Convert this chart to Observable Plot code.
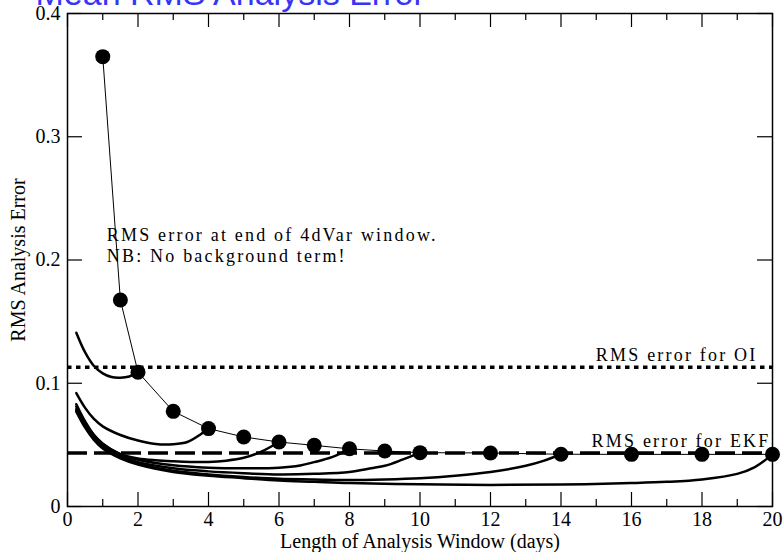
<!DOCTYPE html>
<html>
<head>
<meta charset="utf-8">
<script src="https://cdn.jsdelivr.net/npm/d3@7"></script>
<script src="https://cdn.jsdelivr.net/npm/@observablehq/plot@0.6"></script>
<style>
  html, body { margin: 0; padding: 0; background: #fff; }
  #chart svg { display: block; }
</style>
</head>
<body>
<div id="chart"></div>
<script>
// ---- data ----
const titleText = "Mean RMS Analysis Error";
const xLabel = "Length of Analysis Window (days)";
const yLabel = "RMS Analysis Error";
const noteLines = ["RMS error at end of 4dVar window.", "NB: No background term!"];
const oiLabel = "RMS error for OI";
const ekfLabel = "RMS error for EKF";

// RMS error at the end of each 4dVar window
const windowDays = [1, 1.5, 2, 3, 4, 5, 6, 7, 8, 9, 10, 12, 14, 16, 18, 20];
const rmsAtEnd   = [0.365, 0.1675, 0.109, 0.0772, 0.0632, 0.0564, 0.0523, 0.0496, 0.0468, 0.045, 0.0437, 0.0434, 0.0424, 0.0423, 0.0423, 0.0423];

// reference levels
const oiError = 0.113;
const ekfError = 0.0434;

// error evolution inside selected windows
const win2Days = [0.25, 0.5, 0.75, 1.0, 1.25, 1.5, 1.75, 2.0];
const win2Rms  = [0.141, 0.125, 0.114, 0.108, 0.105, 0.1045, 0.1055, 0.109];

const win4Days = [0.25, 0.5, 0.75, 1.0, 1.5, 2.0, 2.5, 3.0, 3.4, 3.75, 4.0];
const win4Rms  = [0.092, 0.080, 0.071, 0.065, 0.058, 0.0535, 0.0507, 0.0505, 0.0523, 0.058, 0.0632];

const win6Days = [0.25, 0.5, 0.75, 1.0, 1.25, 1.5, 2.0, 2.5, 3.0, 3.5, 4.0, 4.5, 5.0, 5.5, 6.0];
const win6Rms  = [0.083, 0.069, 0.058, 0.051, 0.046, 0.0425, 0.039, 0.0375, 0.0367, 0.0362, 0.0362, 0.0372, 0.0395, 0.0445, 0.0523];

const win8Days = [0.25, 0.5, 0.75, 1.0, 1.5, 2.0, 3.0, 4.0, 5.0, 6.0, 6.6, 7.0, 7.5, 8.0];
const win8Rms  = [0.081, 0.068, 0.058, 0.051, 0.0425, 0.038, 0.0335, 0.0315, 0.031, 0.0315, 0.0333, 0.036, 0.040, 0.0468];

const win10Days = [0.25, 0.5, 0.75, 1.0, 1.5, 2.0, 3.0, 4.0, 5.0, 6.0, 7.0, 8.0, 8.5, 9.0, 9.5, 10.0];
const win10Rms  = [0.079, 0.066, 0.056, 0.049, 0.041, 0.036, 0.031, 0.0285, 0.027, 0.026, 0.0265, 0.028, 0.0305, 0.033, 0.038, 0.0437];

const win14Days = [0.25, 0.5, 0.75, 1.0, 1.5, 2.0, 3.0, 4.0, 5.0, 6.0, 7.0, 8.0, 9.0, 10.0, 11.0, 12.0, 13.0, 13.5, 14.0];
const win14Rms  = [0.078, 0.065, 0.055, 0.048, 0.040, 0.035, 0.029, 0.026, 0.024, 0.0225, 0.022, 0.0215, 0.022, 0.023, 0.025, 0.028, 0.033, 0.037, 0.0424];

const win20Days = [0.25, 0.5, 0.75, 1.0, 1.5, 2.0, 3.0, 4.0, 5.0, 6.0, 7.0, 8.0, 10.0, 12.0, 14.0, 16.0, 17.0, 18.0, 19.0, 19.5, 20.0];
const win20Rms  = [0.077, 0.064, 0.054, 0.047, 0.039, 0.034, 0.028, 0.025, 0.023, 0.021, 0.020, 0.019, 0.018, 0.0175, 0.0178, 0.019, 0.020, 0.022, 0.0265, 0.032, 0.0423];

// axis ticks
const xMajorTicks = [0, 2, 4, 6, 8, 10, 12, 14, 16, 18, 20];
const xMinorTicks = [1, 3, 5, 7, 9, 11, 13, 15, 17, 19];
const yTicks = [0, 0.1, 0.2, 0.3, 0.4];
const yTickLabels = ["0", "0.1", "0.2", "0.3", "0.4"];

// ---- tables built from the arrays ----
const endPoints = windowDays.map((d, i) => ({day: d, rms: rmsAtEnd[i]}));
const windows = [
  [2, win2Days, win2Rms], [4, win4Days, win4Rms], [6, win6Days, win6Rms],
  [8, win8Days, win8Rms], [10, win10Days, win10Rms], [14, win14Days, win14Rms],
  [20, win20Days, win20Rms]
];
const inWindow = windows.flatMap(([w, ds, rs]) => ds.map((d, i) => ({window: w, day: d, rms: rs[i]})));

// ---- layout ----
const W = 784, H = 552;
const mL = 67, mR = 12, mT = 13, mB = 46;
const frameW = W - mL - mR, frameH = H - mT - mB;
const serif = "'Liberation Serif', 'Times New Roman', serif";
const sans = "'Liberation Sans', Arial, sans-serif";

const chart = Plot.plot({
  width: W, height: H,
  marginLeft: mL, marginRight: mR, marginTop: mT, marginBottom: mB,
  style: {fontFamily: serif, fontSize: "20px", background: "#fff", color: "#000"},
  x: {domain: [0, 20]},
  y: {domain: [0, 0.4]},
  marks: [
    // reference levels
    Plot.ruleY([oiError], {stroke: "#000", strokeWidth: 3.5, strokeDasharray: "4.5,4.5"}),
    Plot.ruleY([ekfError], {stroke: "#000", strokeWidth: 3.5, strokeDasharray: "20,7"}),
    // in-window error curves
    Plot.line(inWindow, {x: "day", y: "rms", z: "window", curve: "catmull-rom", stroke: "#000", strokeWidth: 2.5}),
    // end-of-window errors
    Plot.line(endPoints, {x: "day", y: "rms", stroke: "#000", strokeWidth: 1}),
    Plot.dot(endPoints, {x: "day", y: "rms", r: 7.5, fill: "#000", stroke: "none"}),
    // frame and inward ticks
    Plot.frame({stroke: "#000", strokeWidth: 1.5}),
    Plot.ruleX(xMajorTicks, {x: d => d, insetTop: frameH - 14, stroke: "#000", strokeWidth: 1.2}),
    Plot.ruleX(xMinorTicks, {x: d => d, insetTop: frameH - 7, stroke: "#000", strokeWidth: 1.2}),
    Plot.ruleX(xMajorTicks, {x: d => d, insetBottom: frameH - 14, stroke: "#000", strokeWidth: 1.2}),
    Plot.ruleX(xMinorTicks, {x: d => d, insetBottom: frameH - 7, stroke: "#000", strokeWidth: 1.2}),
    Plot.ruleY(yTicks, {y: d => d, insetRight: frameW - 15, stroke: "#000", strokeWidth: 1.2}),
    Plot.ruleY(yTicks, {y: d => d, insetLeft: frameW - 15, stroke: "#000", strokeWidth: 1.2}),
    // tick labels
    Plot.axisX({ticks: xMajorTicks, tickSize: 0, tickPadding: 5, tickFormat: d => String(d), label: null, fontSize: 20}),
    Plot.axisY({ticks: yTicks, tickSize: 0, tickPadding: 7, tickFormat: (d, i) => yTickLabels[i], label: null, fontSize: 20}),
    // axis titles
    Plot.text([xLabel], {frameAnchor: "bottom", dy: 41, lineAnchor: "bottom", fontSize: 20}),
    Plot.text([yLabel], {frameAnchor: "left", dx: -49, rotate: -90, textAnchor: "middle", fontSize: 20}),
    // annotations
    Plot.text([noteLines.join("\n")], {x: 1, y: 0.198, textAnchor: "start", lineAnchor: "bottom", dx: 4, lineHeight: 1.22, fontSize: 18}),
    Plot.text([oiLabel], {x: 20, y: oiError, textAnchor: "end", lineAnchor: "bottom", dx: -15, dy: -6, fontSize: 18}),
    Plot.text([ekfLabel], {x: 20, y: ekfError, textAnchor: "end", lineAnchor: "bottom", dx: -2, dy: -6, fontSize: 18}),
    // title (cut by the top edge as in the reference)
    Plot.text([titleText], {frameAnchor: "top-left", dx: -32, dy: -9, textAnchor: "start", lineAnchor: "bottom", fill: "#3535f5", fontSize: 34})
  ]
});

const svg = d3.select(chart);
svg.selectAll("text").style("font-family", serif);
const spaced = [noteLines[0], oiLabel, ekfLabel];
svg.selectAll("text")
  .filter(function () { return spaced.some(s => this.textContent.startsWith(s)); })
  .style("letter-spacing", "2.2px");
svg.selectAll("text")
  .filter(function () { return this.textContent === titleText; })
  .style("font-family", sans);
document.getElementById("chart").appendChild(chart);
</script>
</body>
</html>
